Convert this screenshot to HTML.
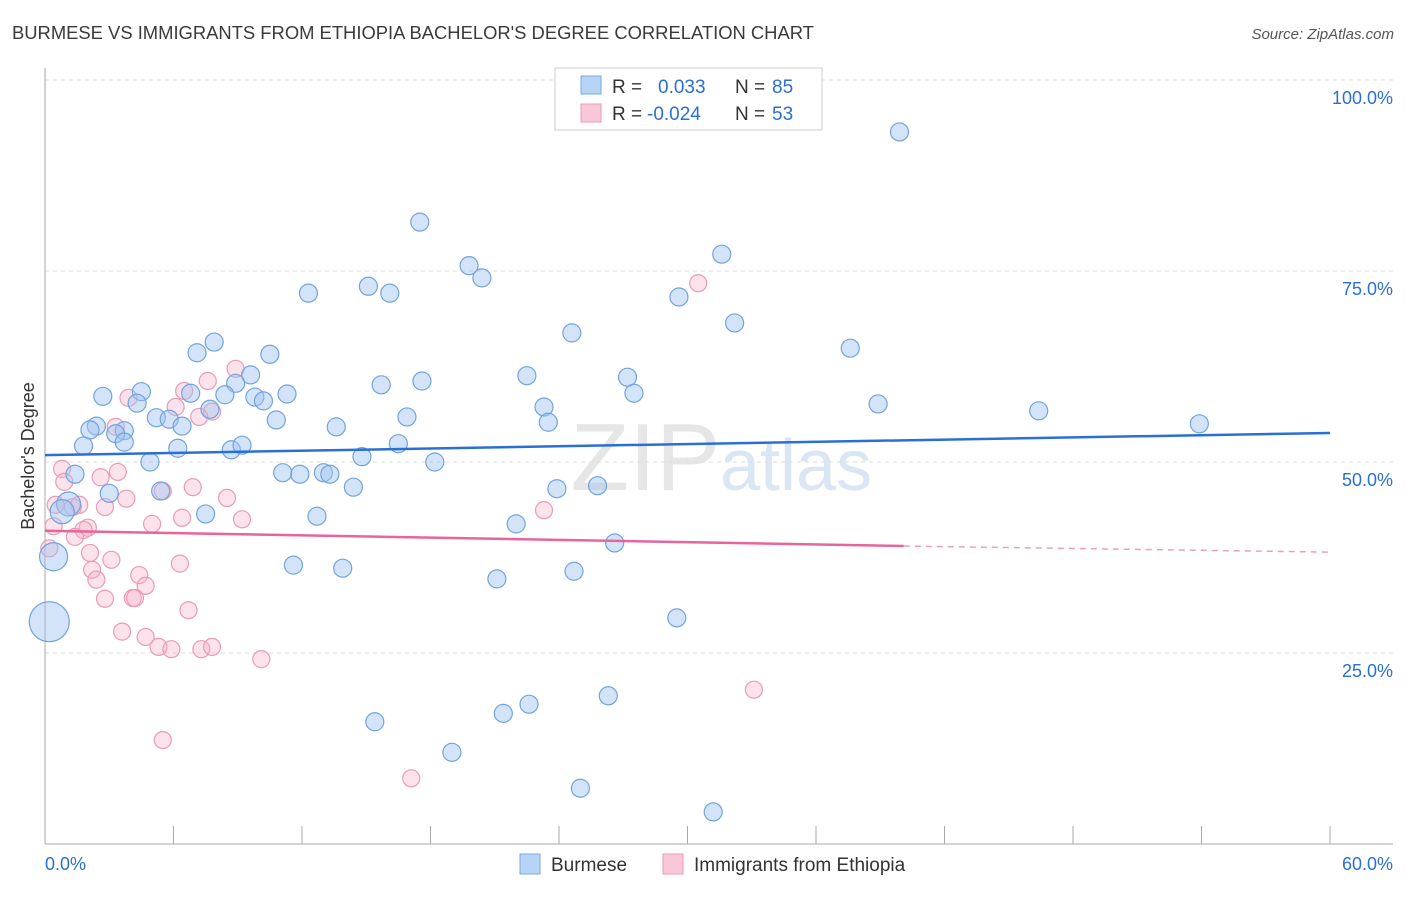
<!DOCTYPE html>
<html><head><meta charset="utf-8"><style>
body{margin:0;background:#fff;font-family:"Liberation Sans",sans-serif;}
svg text{font-family:"Liberation Sans",sans-serif;}
</style></head><body>
<svg id="chart" width="1406" height="892" viewBox="0 0 1406 892" xmlns="http://www.w3.org/2000/svg">
<text x="12" y="39" font-size="18.4" fill="#3a3a3a">BURMESE VS IMMIGRANTS FROM ETHIOPIA BACHELOR'S DEGREE CORRELATION CHART</text>
<text x="1394" y="39" font-size="15" fill="#555" font-style="italic" text-anchor="end">Source: ZipAtlas.com</text>
<text x="720" y="490" font-size="96" fill="#e6e6e6" text-anchor="end" font-family="Liberation Serif">ZIP</text>
<text x="720" y="490" font-size="72" fill="#dbe6f4">atlas</text>
<g id="grid"></g>
<g id="axes"></g>
<g id="marks"></g>
<text transform="translate(34,456) rotate(-90)" font-size="18" fill="#333" text-anchor="middle">Bachelor's Degree</text>
<g>
<rect x="555" y="68" width="267" height="62" fill="#fff" stroke="#ccc"/>
<rect x="581" y="76" width="20" height="18" fill="#b7d3f5" stroke="#7aa8e0"/>
<text x="612" y="93" font-size="19" fill="#333">R = </text><text x="658" y="93" font-size="19" fill="#2a6fd6">0.033</text>
<text x="735" y="93" font-size="19" fill="#333">N = </text><text x="772" y="93" font-size="19" fill="#2a6fd6">85</text>
<rect x="581" y="104" width="20" height="18" fill="#f9c8d8" stroke="#ec9ab8"/>
<text x="612" y="120" font-size="19" fill="#333">R = </text><text x="647" y="120" font-size="19" fill="#2a6fd6">-0.024</text>
<text x="735" y="120" font-size="19" fill="#333">N = </text><text x="772" y="120" font-size="19" fill="#2a6fd6">53</text>
</g>
<g>
<rect x="520" y="854" width="20" height="20" fill="#b7d3f5" stroke="#7aa8e0"/>
<text x="551" y="871" font-size="19" fill="#333">Burmese</text>
<rect x="663" y="854" width="20" height="20" fill="#f9c8d8" stroke="#ec9ab8"/>
<text x="694" y="871" font-size="19" fill="#333">Immigrants from Ethiopia</text>
</g>
</svg>
<script>
const blueX=[39.9,17.5,19.8,20.4,31.6,12.3,15.1,16.1,29.6,32.2,24.6,37.6,7.9,7.1,10.5,9.6,8.9,4.5,2.7,4.3,6.8,8.4,9.8,10.2,11.3,15.7,17.6,22.5,27.2,27.5,23.3,23.5,16.9,38.9,46.4,53.9,5.2,5.8,6.4,7.7,10.8,2.4,2.1,3.7,3.3,3.7,1.8,6.2,8.7,9.2,13.6,16.5,4.9,14.8,18.2,1.4,11.1,11.9,13.0,13.3,14.4,23.9,25.8,3.0,5.4,1.1,0.8,7.5,12.7,22.0,26.6,0.4,11.6,13.9,24.7,21.1,29.5,0.2,26.3,22.6,21.4,15.4,19.0,25.0,31.2];
const blueY=[93.2,81.4,75.7,74.1,77.2,72.1,73.0,72.1,71.6,68.2,66.9,64.9,65.7,64.3,64.1,61.4,60.3,59.2,58.6,57.7,59.0,58.8,58.5,58.0,58.9,60.1,60.6,61.3,61.1,59.0,57.2,55.2,55.9,57.6,56.7,55.0,55.8,55.6,54.7,56.9,55.5,54.7,54.2,54.1,53.7,52.6,52.1,51.8,51.6,52.2,54.6,52.4,50.0,50.7,50.0,48.4,48.6,48.4,48.6,48.4,46.7,46.5,46.9,45.9,46.2,44.5,43.5,43.2,42.9,41.9,39.4,37.6,36.5,36.1,35.7,34.7,29.6,29.1,19.4,18.3,17.1,16.0,12.0,7.3,4.2];
const blueR=[9,9,9,9,9,9,9,9,9,9,9,9,9,9,9,9,9,9,9,9,9,9,9,9,9,9,9,9,9,9,9,9,9,9,9,9,9,9,9,9,9,9,9,9,9,9,9,9,9,9,9,9,9,9,9,9,9,9,9,9,9,9,9,9,9,12,12,9,9,9,9,14,9,9,9,9,9,20,9,9,9,9,9,9,9];
const pinkX=[30.5,8.9,7.6,6.5,3.9,6.1,7.8,7.2,3.3,0.8,3.4,2.6,0.9,6.9,5.5,8.5,3.8,1.6,2.8,0.5,1.3,23.3,6.4,9.2,5.0,2.0,1.8,0.4,1.4,0.2,2.1,3.1,6.3,2.2,2.4,4.4,4.7,2.8,4.1,4.2,6.7,3.6,4.7,5.3,5.9,7.3,7.8,10.1,33.1,5.5,17.1];
const pinkY=[73.4,62.2,60.6,59.3,58.4,57.2,56.6,55.9,54.6,49.1,48.7,48.0,47.4,46.7,46.2,45.3,45.2,44.4,44.1,44.4,44.1,43.7,42.7,42.5,41.9,41.4,41.1,41.6,40.2,38.7,38.1,37.2,36.7,35.9,34.6,35.2,33.8,32.1,32.2,32.2,30.6,27.8,27.1,25.8,25.5,25.5,25.8,24.2,20.2,13.6,8.6];
const blueTrendX=[0,60];const blueTrendY=[50.9,53.8];
const pinkTrendX=[0,40.1,60];const pinkTrendY=[41.0,39.0,38.2];
const xTicks=[0,6,12,18,24,30,36,42,48,54,60];
const yTicks=[25,50,75,100];
const yTickLabels=["25.0%","50.0%","75.0%","100.0%"];
const xEndLabels=["0.0%","60.0%"];

const NS="http://www.w3.org/2000/svg";
const sx=v=>45+v/60*1285;
const sy=v=>844-v/25*191;
function mk(tag,attrs,parent){const e=document.createElementNS(NS,tag);for(const k in attrs)e.setAttribute(k,attrs[k]);parent.appendChild(e);return e;}
const grid=document.getElementById('grid'),axes=document.getElementById('axes'),marks=document.getElementById('marks');
yTicks.forEach((t,i)=>{
 const l=mk('line',{x1:45,x2:1393,y1:sy(t),y2:sy(t),stroke:'#ddd','stroke-dasharray':'4,4'},grid);
 
 
 const tx=mk('text',{x:1393,y:sy(t)+24,'font-size':18,fill:'#2a6fd6','text-anchor':'end'},axes);
 tx.textContent=yTickLabels[i];
 
 
});
const ax=mk('line',{x1:45,x2:1393,y1:844,y2:844,stroke:'#aaa'},axes);


const ay=mk('line',{x1:45,x2:45,y1:68,y2:844,stroke:'#aaa'},axes);


xTicks.forEach(t=>{
 const l=mk('line',{x1:sx(t),x2:sx(t),y1:826,y2:844,stroke:'#aaa'},axes);
 
 
});
[[0,'start',45],[60,'end',1393]].forEach((d,i)=>{
 const tx=mk('text',{x:d[2],y:870,'font-size':18,fill:'#2a6fd6','text-anchor':d[1]},axes);
 tx.textContent=xEndLabels[i];
 
 
});
pinkX.forEach((x,i)=>{
 const c=mk('circle',{cx:sx(x),cy:sy(pinkY[i]),r:8.5,fill:'rgba(245,175,198,0.35)',stroke:'#eb9ab7','stroke-width':1.2},marks);
 
 
});
blueX.forEach((x,i)=>{
 const c=mk('circle',{cx:sx(x),cy:sy(blueY[i]),r:blueR[i],fill:'rgba(160,196,240,0.45)',stroke:'#72a3dd','stroke-width':1.2},marks);
 
 
});
const bt=mk('line',{x1:sx(blueTrendX[0]),y1:sy(blueTrendY[0]),x2:sx(blueTrendX[1]),y2:sy(blueTrendY[1]),stroke:'#2a6fd6','stroke-width':2.5},marks);


const pt=mk('line',{x1:sx(pinkTrendX[0]),y1:sy(pinkTrendY[0]),x2:sx(pinkTrendX[1]),y2:sy(pinkTrendY[1]),stroke:'#e8649a','stroke-width':2.5},marks);


const pd=mk('line',{x1:sx(pinkTrendX[1]),y1:sy(pinkTrendY[1]),x2:sx(pinkTrendX[2]),y2:sy(pinkTrendY[2]),stroke:'#eba0bd','stroke-width':1.5,'stroke-dasharray':'6,5'},marks);


</script>
</body></html>
